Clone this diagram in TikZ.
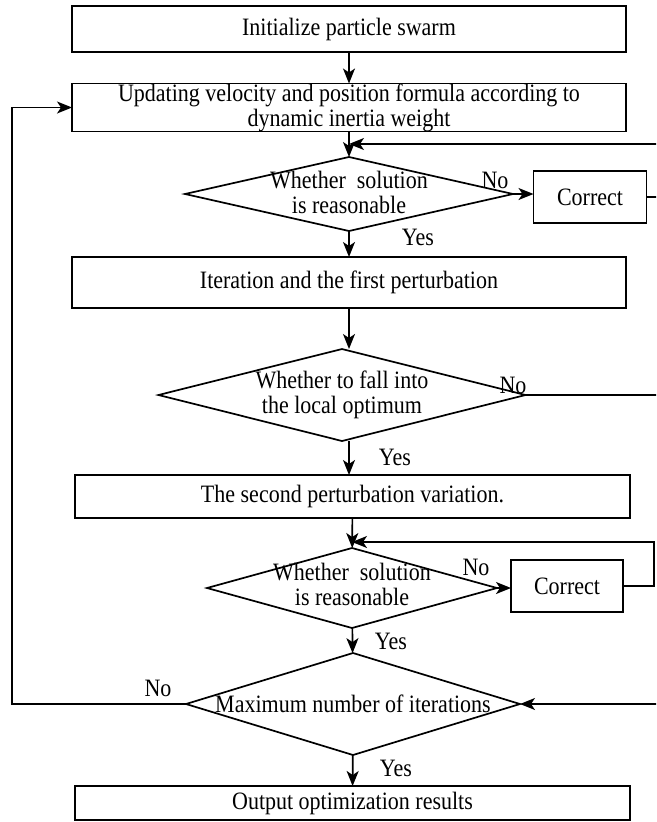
\documentclass[tikz,border=0pt]{standalone}
\usepackage{fontspec}
\setmainfont{Liberation Serif}[FakeStretch=0.88]
\usetikzlibrary{arrows.meta,shapes.geometric}
\begin{document}
\begin{tikzpicture}[x=1pt,y=-1pt,
  every node/.style={font=\fontsize{25}{25}\selectfont, inner sep=0pt, outer sep=0pt},
  procbox/.style={draw, line width=1.7pt, rectangle, align=center},
  dia/.style={draw, line width=1.7pt, diamond, aspect=1},
  arr/.style={line width=1.7pt, -{Stealth[length=15pt,width=12pt,inset=4pt]}}]
\clip (0,0) rectangle (656,822);
% main column
\node[procbox, minimum width=554pt, minimum height=46pt] (b1) at (349,29) {Initialize particle swarm};
\node[procbox, minimum width=554pt, minimum height=45pt] (b2) at (349,107.5) {Updating velocity and position formula according to\\dynamic inertia weight};
\node[dia, minimum width=328pt, minimum height=74pt] (d1) at (349,194) {};
\node[align=center] (d1t) at (349,192) {Whether\ \ solution\\is reasonable};
\node[procbox, minimum width=113pt, minimum height=52pt] (c1) at (590,197) {Correct};
\node[procbox, minimum width=554pt, minimum height=51pt] (it) at (349,282.5) {Iteration and the first perturbation};
\node[dia, minimum width=367pt, minimum height=92pt] (d2) at (342,395) {};
\node[align=center] (d2t) at (342,395) {Whether to fall into\\the local optimum};
\node[procbox, minimum width=555pt, minimum height=43pt] (b3) at (352.5,496.5) {The second perturbation variation.};
\node[dia, minimum width=290pt, minimum height=80pt] (d3) at (352,588) {};
\node[align=center] (d3t) at (352,584) {Whether\ \ solution\\is reasonable};
\node[procbox, minimum width=112pt, minimum height=52pt] (c2) at (567,586) {Correct};
\node[dia, minimum width=334pt, minimum height=102pt] (d4) at (353,704) {};
\node (d4t) at (353,704) {Maximum number of iterations};
\node[procbox, minimum width=555pt, minimum height=34pt] (b4) at (352.5,803) {Output optimization results};
% labels
\node (n1) at (495,180) {No};
\node (y1) at (418,237) {Yes};
\node (n2) at (513,385) {No};
\node (y2) at (395,457) {Yes};
\node (n3) at (476,567) {No};
\node (y3) at (391,641) {Yes};
\node (n4) at (158,688) {No};
\node (y4) at (396,768) {Yes};
% helper coordinates
\coordinate (rx) at (664,0);
\coordinate (rx2) at (654,0);
\coordinate (lx) at (12,0);
\coordinate (j1) at (349,144);
\coordinate (j2) at (352,542);
% main arrows
\draw[arr] (b1) -- (b2);
\draw[arr] (b2) -- (d1);
\draw[arr] (d1) -- (it);
\draw[arr] (it.south) -- (it.south |- d2.north);
\draw[arr] (it.south |- d2.south) -- (it.south |- b3.north);
\draw[arr] (b3) -- (d3);
\draw[arr] (d3) -- (d4);
\draw[arr] (d4) -- (b4);
\draw[arr] (d1.east) -- (d1.east -| c1.west);
\draw[arr] (d3.east) -- (d3.east -| c2.west);
% loops
\draw[arr] (c1.east) -- (c1.east -| rx) |- (j1);
\draw[arr] (c2.east) -- (c2.east -| rx2) |- (j2);
\draw[arr] (d2.east) -- (d2.east -| rx) |- (d4.east);
\draw[arr] (d4.west) -- (d4.west -| lx) |- (b2.west);
\end{tikzpicture}
\end{document}
